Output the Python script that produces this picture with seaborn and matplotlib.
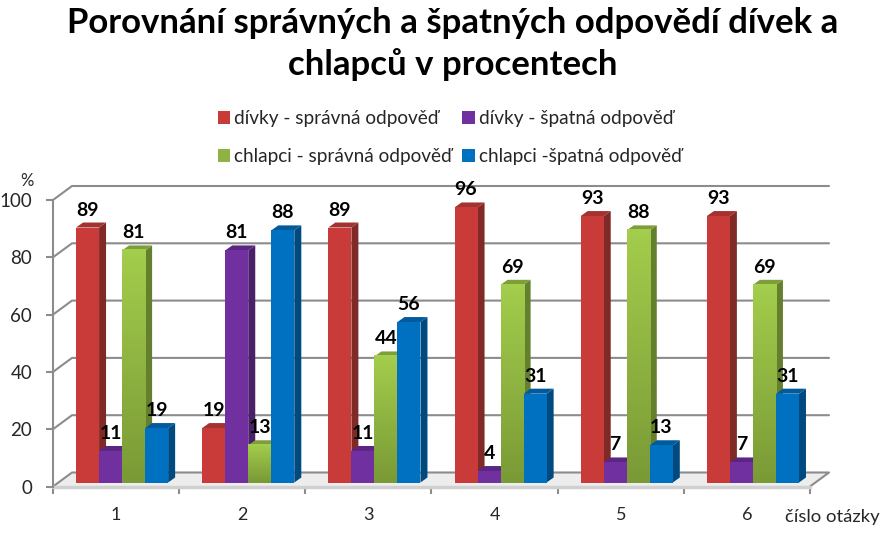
import numpy as np
import pandas as pd
import seaborn as sns
import matplotlib.pyplot as plt
from matplotlib.patches import Polygon
from matplotlib.transforms import Affine2D, IdentityTransform

otazky = ['1', '2', '3', '4', '5', '6']
divky_spravne = [89, 19, 89, 96, 93, 93]
divky_spatne = [11, 81, 11, 4, 7, 7]
chlapci_spravne = [81, 13, 44, 69, 88, 69]
chlapci_spatne = [19, 88, 56, 31, 13, 31]

serie = ['dívky - správná odpověď', 'dívky - špatná odpověď',
         'chlapci - správná odpověď', 'chlapci -špatná odpověď']
barvy = ['#C93B38', '#7030A0', '#8FB342', '#0070C0']
boky = ['#7F2A27', '#4A2069', '#64802F', '#004A80']
vrsky = ['#A33230', '#5A2682', '#7E9E3A', '#005A9C']
y_ticks = [0, 20, 40, 60, 80, 100]

sns.set_theme(style='white')
plt.rcParams['font.family'] = ['Lato', 'DejaVu Sans']

df = pd.DataFrame({'otazka': otazky * 4,
                   'hodnota': divky_spravne + divky_spatne + chlapci_spravne + chlapci_spatne,
                   'serie': [s for s in serie for _ in otazky]})

W, H = 887, 533
fig = plt.figure(figsize=[W / 100, H / 100], dpi=100)
ax = fig.add_axes([53 / W, 1 - 486.5 / H, 757 / W, 286.5 / H])

sns.barplot(data=df, x='otazka', y='hodnota', hue='serie', hue_order=serie, palette=barvy,
            saturation=1, width=0.73, gap=0, errorbar=None, linewidth=0, ax=ax)
handles, labels = ax.get_legend_handles_labels()
ax.get_legend().remove()

ax.set_xlim(-0.5, 5.5)
ax.set_ylim(0, 100)
fig.canvas.draw()


def px(x, y, dx=0, dy=0):
    # data -> pixels, with a pixel shift for the fake 3D
    p = ax.transData.transform((x, y))
    return p[0] + dx, p[1] + dy


def poly(points, color, z, **kw):
    ax.add_patch(Polygon(points, closed=True, facecolor=color, edgecolor='none', zorder=z,
                         transform=IdentityTransform(), clip_on=False, **kw))


# back wall grid and floor
GRID = '#8C8C8C'
DX, DY = 19, 14
poly([px(-0.5, 0), px(-0.5, 0, DX, DY), px(5.5, 0, DX, DY), px(5.5, 0)], '#EDEDED', 1)
for v in y_ticks:
    pts = [px(-0.5, v), px(-0.5, v, DX, DY), px(5.5, v, DX, DY)]
    if v == 0:
        pts.append(px(5.5, 0))
    ax.plot(*zip(*pts), color=GRID, lw=1.5, transform=IdentityTransform(), clip_on=False, zorder=1.5)

# bars: seaborn draws the fronts, shifted into the box, sides added from the same geometry
BX, BY = 6, 4
SX, SY = 7, 5
shift = Affine2D().translate(BX, BY)
bars = []
for cont, bc, tc, sname in zip(ax.containers, boky, vrsky, serie):
    for patch, val in zip(cont, cont.datavalues):
        bars.append((patch, val, bc, tc, sname))
bars.sort(key=lambda b: b[0].get_x())

gradient = np.linspace(0, 1, 64).reshape(-1, 1)
cmap = sns.blend_palette(['#A3CD4C', '#7A9A36'], as_cmap=True)
z = 3
for patch, val, bc, tc, sname in bars:
    x0, x1 = patch.get_x(), patch.get_x() + patch.get_width()
    poly([px(x1, 0, BX, BY), px(x1, 0, BX + SX, BY + SY), px(x1, val, BX + SX, BY + SY), px(x1, val, BX, BY)], bc, z)
    poly([px(x0, val, BX, BY), px(x0, val, BX + SX, BY + SY), px(x1, val, BX + SX, BY + SY), px(x1, val, BX, BY)], tc, z)
    patch.set_transform(ax.transData + shift)
    patch.set_clip_on(False)
    patch.set_zorder(z + 0.1)
    if sname == serie[2]:
        patch.set_facecolor('#7A9A36')
        im = ax.imshow(gradient, extent=[x0, x1, 0, val], aspect='auto', cmap=cmap, zorder=z + 0.2)
        im.set_transform(ax.transData + shift)
        im.set_clip_on(False)
    ax.annotate(str(int(val)), xy=((x0 + x1) / 2, val), xycoords=ax.transData + shift,
                xytext=(0, 9), textcoords='offset pixels', ha='center', va='bottom',
                fontsize=14, fontweight='bold', color='black', zorder=50)
    z += 1

ax.set_xlim(-0.5, 5.5)
ax.set_ylim(0, 100)
ax.grid(False)

# axes
for s in ['top', 'right', 'bottom']:
    ax.spines[s].set_visible(False)
ax.spines['left'].set_color(GRID)
ax.spines['left'].set_linewidth(1.5)
ax.plot([-0.5, 5.5], [0, 0], color='#D0D0D0', lw=2.5, clip_on=False, zorder=2)
ax.set_xlabel('')
ax.set_ylabel('')
ax.set_yticks(y_ticks)
ax.set_xticks(range(len(otazky)))
ax.set_xticklabels(otazky)
ax.set_xticks(np.arange(-0.5, 6), minor=True)
ax.tick_params(axis='x', which='major', length=0, pad=15, labelsize=13, labelcolor='#262626')
ax.tick_params(axis='x', which='minor', length=5, width=1.5, color=GRID, bottom=True)
ax.tick_params(axis='y', length=5, width=1.5, color=GRID, left=True, pad=10, labelsize=13.5, labelcolor='#262626')

fig.text(27 / W, 1 - 181 / H, '%', ha='center', va='center', fontsize=12, color='#262626')
fig.text(832 / W, 1 - 517 / H, 'číslo otázky', ha='center', va='center', fontsize=13.3, color='#262626')

fig.text(453 / W, 1 - 44 / H, 'Porovnání správných a špatných odpovědí dívek a\nchlapců v procentech',
         ha='center', va='center', fontsize=25, fontweight='bold', color='black', linespacing=1.36)

# legend filled by rows -> order red, green, purple, blue
poradi = [0, 2, 1, 3]
leg = fig.legend([handles[i] for i in poradi], [labels[i] for i in poradi], ncols=2,
                 loc='upper left', bbox_to_anchor=(218 / W, 1 - 110 / H), frameon=False,
                 fontsize=13.7, handlelength=0.65, handleheight=0.65, handletextpad=0.2,
                 columnspacing=0.55, labelspacing=1.12, labelcolor='#262626', borderpad=0, borderaxespad=0)

plt.savefig('out.png', dpi=100)
